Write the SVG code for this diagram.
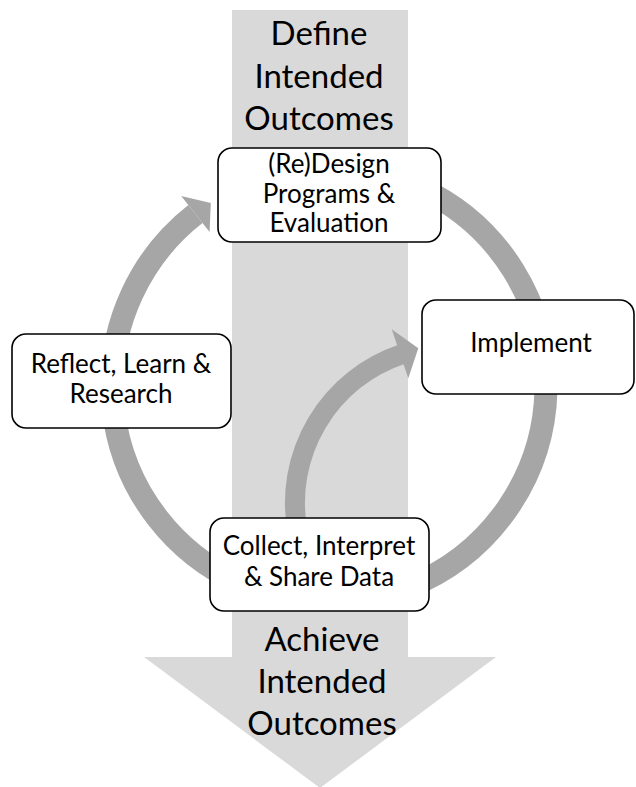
<svg xmlns="http://www.w3.org/2000/svg" width="636" height="787" viewBox="0 0 636 787">
  <style>
    .big { font-family: "Lato", "Open Sans", "Liberation Sans", sans-serif; font-size: 33px; fill: #000; text-anchor: middle; }
    .lbl { font-family: "Lato", "Open Sans", "Liberation Sans", sans-serif; font-size: 26px; fill: #000; text-anchor: middle; }
    .box { fill: #ffffff; stroke: #000000; stroke-width: 1.6; }
    .arc { fill: none; stroke: #a6a6a6; stroke-width: 23; stroke-linecap: butt; }
    .arc2 { fill: none; stroke: #a6a6a6; stroke-width: 20; stroke-linecap: butt; }
    .head { fill: #a6a6a6; }
  </style>
  <rect x="0" y="0" width="636" height="787" fill="#ffffff"/>

  <g id="outcome-arrow">
    <polygon points="232,10 408,10 408,657 496,657 320,788 144,657 232,657" fill="#d9d9d9"/>
    <text class="big" x="319" y="45">Define</text>
    <text class="big" x="319" y="88">Intended</text>
    <text class="big" x="319" y="130">Outcomes</text>
    <text class="big" x="322" y="651">Achieve</text>
    <text class="big" x="322" y="693">Intended</text>
    <text class="big" x="322" y="735">Outcomes</text>
  </g>

  <g id="connectors">
    <path class="arc" d="M420.7,188.3 A217,217 0 0 1 410.3,586.2"/>
    <path class="arc" d="M237.3,581.7 A217,217 0 0 1 195.4,214.0"/>
    <polygon class="head" points="181.2,195.9 210.8,203.0 209.6,232.1"/>
    <path class="arc2" d="M297.3,530 A157,157 0 0 1 401.7,354.2"/>
    <polygon class="head" points="391.7,329.3 418.3,348.3 408.3,378.3"/>
  </g>

  <g id="node-redesign">
    <rect class="box" x="218" y="148" width="223" height="94" rx="14"/>
    <text class="lbl" x="329" y="173">(Re)Design</text>
    <text class="lbl" x="329" y="203">Programs &amp;</text>
    <text class="lbl" x="329" y="232">Evaluation</text>
  </g>

  <g id="node-implement">
    <rect class="box" x="422" y="300" width="212" height="94" rx="14"/>
    <text class="lbl" x="531" y="352">Implement</text>
  </g>

  <g id="node-collect">
    <rect class="box" x="210" y="518" width="219" height="93" rx="14"/>
    <text class="lbl" x="319" y="555">Collect, Interpret</text>
    <text class="lbl" x="319" y="586">&amp; Share Data</text>
  </g>

  <g id="node-reflect">
    <rect class="box" x="12" y="334" width="219" height="94" rx="14"/>
    <text class="lbl" x="121" y="373">Reflect, Learn &amp;</text>
    <text class="lbl" x="121" y="403">Research</text>
  </g>
</svg>
